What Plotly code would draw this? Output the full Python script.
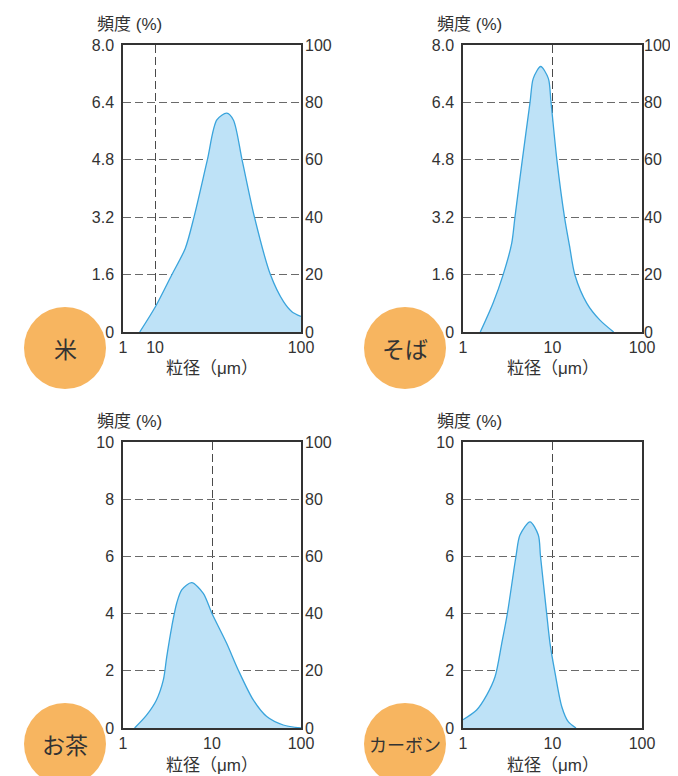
import plotly.graph_objects as go
import math

# browser body margin offsets the figure by 8px
OFF = 8
W, H = 678 - OFF, 776 - OFF

# ---- data ----
rice_x = [7.85, 10.05, 13.0, 16.1, 18.5, 22.8, 26.5, 31.0, 34.4, 39.5, 48.0, 61.7, 75.9, 86.6, 100]
rice_y = [0, 0.705, 1.59, 2.33, 3.21, 4.79, 5.91, 6.10, 5.91, 4.79, 3.20, 1.60, 0.845, 0.566, 0.435]

soba_x = [1.56, 2.17, 2.81, 3.50, 3.81, 4.60, 5.61, 6.10, 7.38, 8.98, 9.62, 11.2, 13.6, 15.5, 17.8, 24.2, 33.9, 48.2]
soba_y = [0, 0.81, 1.60, 2.47, 3.21, 4.80, 6.40, 7.07, 7.40, 7.07, 6.41, 4.79, 3.21, 2.40, 1.59, 0.80, 0.33, 0]

tea_x = [1.35, 1.83, 2.37, 2.84, 3.10, 3.53, 4.01, 4.57, 5.91, 7.98, 10, 14.6, 19.7, 29.1, 41.2, 63.2, 100]
tea_y = [0, 0.44, 0.97, 1.68, 2.49, 3.54, 4.36, 4.83, 5.08, 4.71, 4.0, 2.96, 2.03, 0.98, 0.40, 0.105, 0]

carbon_x = [1.0, 1.42, 1.84, 2.28, 2.71, 3.13, 3.91, 4.33, 5.61, 6.94, 7.34, 8.61, 9.38, 10.7, 12.7, 15.0, 18.3]
carbon_y = [0.29, 0.63, 1.15, 1.79, 2.96, 4.0, 6.01, 6.75, 7.21, 6.75, 6.01, 4.0, 2.96, 1.91, 0.745, 0.22, 0]

labels = ["米", "そば", "お茶", "カーボン"]

# y ticks
y_ticks_top = [0, 1.6, 3.2, 4.8, 6.4, 8.0]
y_ticktext_top = ["0", "1.6", "3.2", "4.8", "6.4", "8.0"]
y_ticks_bot = [0, 2, 4, 6, 8, 10]
right_ticks = [0, 20, 40, 60, 80, 100]

# x ticks
rice_xmin = 6.03
x_ticks_rice = [rice_xmin, 10, 100]
x_ticks_std = [1, 10, 100]
x_ticktext = ["1", "10", "100"]

# ---- layout geometry (window pixels) ----
cols = [(123, 301), (463, 642)]
rows = [(45, 332), (442, 728)]
right_standoff = [3, 1]

def px(x):
    return (x - OFF) / W

def py(y):
    return 1 - (y - OFF) / H

FONT = "Liberation Sans, Noto Sans CJK JP, sans-serif"
TXT = "#333333"
GRID = "#6a6a6a"
FILL = "rgba(190,226,247,1)"
LINE = "#3aa4dc"
ORANGE = "#f7b560"
DASH = "8px,4px"

fig = go.Figure()

panels = [
    (rice_x, rice_y, 0, 0, [math.log10(rice_xmin), 2], x_ticks_rice, y_ticks_top, y_ticktext_top, 8.0, True),
    (soba_x, soba_y, 1, 0, [0, 2], x_ticks_std, y_ticks_top, y_ticktext_top, 8.0, True),
    (tea_x, tea_y, 0, 1, [0, 2], x_ticks_std, y_ticks_bot, [str(v) for v in y_ticks_bot], 10, True),
    (carbon_x, carbon_y, 1, 1, [0, 2], x_ticks_std, y_ticks_bot, [str(v) for v in y_ticks_bot], 10, False),
]

shapes = []
annotations = []
right_idx = 5
for i, (xs, ys, c, r, xr, xt, yt, ytt, ymax, right) in enumerate(panels):
    n = i + 1
    xa = "x" if n == 1 else f"x{n}"
    ya = "y" if n == 1 else f"y{n}"
    fig.add_trace(go.Scatter(
        x=xs, y=ys, xaxis=xa, yaxis=ya, mode="lines",
        line=dict(color=LINE, width=1.3, shape="spline", smoothing=0.8),
        fill="tozeroy", fillcolor=FILL, showlegend=False, hoverinfo="skip"))
    x0, x1 = cols[c]
    y0, y1 = rows[r]
    xkey = "xaxis" if n == 1 else f"xaxis{n}"
    ykey = "yaxis" if n == 1 else f"yaxis{n}"
    fig.update_layout({
        xkey: dict(type="log", range=xr, domain=[px(x0), px(x1)], anchor=ya,
                   tickvals=xt, ticktext=x_ticktext, ticks="",
                   showgrid=True, gridcolor="#4a4a4a", griddash=DASH, gridwidth=1.2,
                   showline=True, linecolor="#333333", linewidth=1.5, mirror=True,
                   tickfont=dict(family=FONT, size=16, color=TXT), zeroline=False,
                   automargin=False),
        ykey: dict(range=[0, ymax], domain=[py(y1), py(y0)], anchor=xa,
                   tickvals=yt, ticktext=ytt, ticks="", ticklabelstandoff=4,
                   showgrid=True, gridcolor=GRID, griddash=DASH, gridwidth=1.2,
                   showline=True, linecolor="#333333", linewidth=1.5, mirror=True,
                   tickfont=dict(family=FONT, size=16, color=TXT), zeroline=False,
                   automargin=False),
    })
    if right:
        rkey = f"yaxis{right_idx}"
        fig.add_trace(go.Scatter(
            x=[xs[0], xs[-1]], y=[right_ticks[0], right_ticks[-1]], xaxis=xa, yaxis=f"y{right_idx}",
            mode="markers", marker=dict(opacity=0), showlegend=False, hoverinfo="skip"))
        fig.update_layout({
            rkey: dict(range=[0, 100], overlaying=ya, side="right", anchor=xa,
                       tickvals=right_ticks, ticks="", showgrid=False, zeroline=False,
                       showline=False, ticklabelstandoff=right_standoff[c], automargin=False,
                       tickfont=dict(family=FONT, size=16, color=TXT)),
        })
        right_idx += 1

    # axis titles
    annotations.append(dict(text="頻度 (%)", x=px(x0 - 28), y=py(y0 - 21), xref="paper", yref="paper",
                            xanchor="left", yanchor="middle", showarrow=False,
                            font=dict(family=FONT, size=17, color=TXT)))
    annotations.append(dict(text="粒径（μm）", x=px((x0 + x1) / 2), y=py(y1 + 37), xref="paper", yref="paper",
                            xanchor="center", yanchor="middle", showarrow=False,
                            font=dict(family=FONT, size=17, color=TXT)))
    # circle badge
    cx = x0 - 58
    cy = y1 + 16
    rr = 41
    shapes.append(dict(type="circle", xref="paper", yref="paper",
                       x0=px(cx - rr), x1=px(cx + rr), y0=py(cy + rr), y1=py(cy - rr),
                       fillcolor=ORANGE, line=dict(width=0), layer="above"))
    annotations.append(dict(text=labels[i], x=px(cx), y=py(cy), xref="paper", yref="paper",
                            xanchor="center", yanchor="middle", showarrow=False,
                            font=dict(family="Noto Sans CJK JP", size=23 if len(labels[i]) <= 2 else 18, color=TXT)))

fig.update_layout(width=W, height=H, margin=dict(l=0, r=0, t=0, b=0, autoexpand=False),
                  paper_bgcolor="white", plot_bgcolor="white",
                  shapes=shapes, annotations=annotations, showlegend=False)

fig.write_html("out.html")
